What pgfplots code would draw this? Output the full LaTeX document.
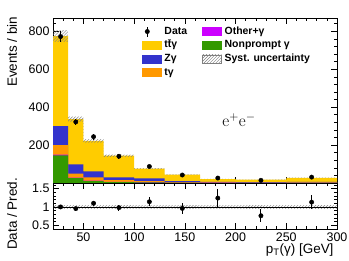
\documentclass[border=0pt]{standalone}
\usepackage{fontspec}
\setmainfont{Liberation Sans}
\newfontfamily\lmr{Latin Modern Roman}
\usepackage{pgfplots}
\pgfplotsset{compat=1.18}
\usepackage{pgfplotstable}
\usetikzlibrary{patterns}
\definecolor{cTTG}{HTML}{FFCC00}
\definecolor{cZG}{HTML}{3333CC}
\definecolor{cTG}{HTML}{FF9900}
\definecolor{cOth}{HTML}{CC00FF}
\definecolor{cNP}{HTML}{339900}

% bin low edges (last row repeats the final bin, closing at 300)
\pgfplotstableread{
x   g    m    o   b    tt
20  145  5    50  100  475
35  25   3    22  48   239
50  10   3    17  31   161
70  5    1.5  9   14.5 114
100 3    1    6   14   52
130 1.5  0.5  3   5    34
165 1    0.3  2   2.5  15.2
200 0.5  0.3  1.5 2    13.7
250 0.5  0.3  2   3    21.2
300 0.5  0.3  2   3    21.2
}\mc

\pgfplotstableread{
x     y    ey
27.5  772  28
42.5  322  18
60    244  16
85    141  12
115   87   9.3
147.5 42   6.5
182.5 26   5.1
225   14   3.7
275   31   5.6
}\datatab

\pgfplotstableread{
x     y     ey
27.5  1.00  0.036
42.5  0.955 0.055
60    1.10  0.07
85    0.98  0.08
115   1.14  0.12
147.5 0.96  0.14
182.5 1.24  0.24
225   0.76  0.17
275   1.13  0.20
}\ratiotab

\pgfplotsset{
  cmsbase/.style={
    scale only axis, width=284bp, xmin=20, xmax=300,
    tick align=inside, major tick length=6bp, minor tick length=3bp,
    axis line style={line width=0.6bp},
    every tick/.style={black, line width=0.5bp},
    tick label style={font=\fontsize{12.5}{14}\selectfont},
    /pgf/number format/assume math mode=true,
    label style={font=\fontsize{13.5}{15}\selectfont},
    xtick={50,100,150,200,250,300},
    minor xtick={20,30,40,60,70,80,90,110,120,130,140,160,170,180,190,210,220,230,240,260,270,280,290},
  },
  boxleg/.style={legend image code/.code={\fill[#1] (0bp,-4bp) rectangle (19bp,4bp);}},
}

\begin{document}
\begin{tikzpicture}
\useasboundingbox (0,0) rectangle (349bp,-261bp);

\begin{axis}[cmsbase, at={(53bp,-18bp)}, anchor=north west, height=165bp,
  ymin=0, ymax=870, ytick={200,400,600,800},
  minor ytick={0,40,80,120,160,240,280,320,360,440,480,520,560,640,680,720,760,840},
  xticklabel=\empty,
  ylabel={Events / bin},
  ylabel style={at={(axis description cs:-0.144,1.03)}, anchor=east},
  legend columns=2,
  legend style={at={(0.313,0.957)}, anchor=north west, draw=none, fill=none,
    font=\bfseries\fontsize{10.5}{12}\selectfont, inner sep=0pt,
    row sep=1.2bp, cells={anchor=west},
    nodes={text height=8bp, text depth=2.5bp, inner sep=1bp},
    /tikz/every odd column/.append style={column sep=2bp},
    /tikz/every even column/.append style={column sep=14bp}},
]
% legend (row-wise order)
\addlegendimage{legend image code/.code={\draw[black, line width=1bp] (5bp,-5bp) -- (5bp,5bp); \fill[black] (5bp,0bp) circle (2.2bp);}}
\addlegendentry{Data}
\addlegendimage{boxleg=cOth}
\addlegendentry{Other+γ}
\addlegendimage{boxleg=cTTG}
\addlegendentry{t\={t}γ}
\addlegendimage{boxleg=cNP}
\addlegendentry{Nonprompt γ}
\addlegendimage{boxleg=cZG}
\addlegendentry{Zγ}
\addlegendimage{legend image code/.code={\draw[gray, line width=0.5bp, pattern=north east lines, pattern color=gray] (0bp,-4bp) rectangle (19bp,4bp);}}
\addlegendentry{Syst. uncertainty}
\addlegendimage{boxleg=cTG}
\addlegendentry{tγ}

% stacked histogram drawn as cumulative sums, back to front
\addplot[ybar interval, fill=cTTG, draw=none, forget plot]
  table[x=x, y expr=\thisrow{g}+\thisrow{m}+\thisrow{o}+\thisrow{b}+\thisrow{tt}] {\mc};
\addplot[ybar interval, fill=cZG, draw=none, forget plot]
  table[x=x, y expr=\thisrow{g}+\thisrow{m}+\thisrow{o}+\thisrow{b}] {\mc};
\addplot[ybar interval, fill=cTG, draw=none, forget plot]
  table[x=x, y expr=\thisrow{g}+\thisrow{m}+\thisrow{o}] {\mc};
\addplot[ybar interval, fill=cOth, draw=none, forget plot]
  table[x=x, y expr=\thisrow{g}+\thisrow{m}] {\mc};
\addplot[ybar interval, fill=cNP, draw=none, forget plot]
  table[x=x, y=g] {\mc};

% systematic band (+-4% of total prediction), step outline
\addplot[pattern=north east lines, pattern color=gray, draw=none, forget plot]
  coordinates {(20,806) (35,806) (35,350.5) (50,350.5) (50,230.9) (70,230.9)
   (70,149.8) (100,149.8) (100,79) (130,79) (130,45.8) (165,45.8) (165,21.8)
   (200,21.8) (200,18.7) (250,18.7) (250,28.1) (300,28.1)
   (300,25.9) (250,25.9) (250,17.3) (200,17.3) (200,20.2) (165,20.2)
   (165,42.2) (130,42.2) (130,73) (100,73) (100,138.2) (70,138.2)
   (70,213.1) (50,213.1) (50,323.5) (35,323.5) (35,744) (20,744) (20,806)};

% data
\addplot[only marks, mark=*, mark size=2.2bp, black, forget plot,
  error bars/.cd, y dir=both, y explicit, error mark=none,
  error bar style={line width=1bp}]
  table[x=x, y=y, y error=ey] {\datatab};

\node[anchor=base west, font=\bfseries\fontsize{15}{17}\selectfont, yshift=3bp] at (rel axis cs:0,1) {CMS};
\node[anchor=base east, font=\fontsize{11.5}{13}\selectfont, yshift=4.7bp] at (rel axis cs:1,1) {138 fb\textsuperscript{−1} (13 TeV)};
\node[anchor=base, font=\fontsize{17}{20}\selectfont] at (rel axis cs:0.655,0.34) {{\lmr e}$^{+}${\lmr e}$^{-}$};
\end{axis}

\begin{axis}[cmsbase, at={(53bp,-183bp)}, anchor=north west, height=46bp,
  ymin=0.4, ymax=1.65, ytick={0.5,1,1.5},
  minor ytick={0.4,0.6,0.7,0.8,0.9,1.1,1.2,1.3,1.4,1.6},
  xlabel={p\textsubscript{T}(γ) [GeV]},
  xlabel style={at={(axis description cs:1,-0.457)}, anchor=east},
  ylabel={Data / Pred.},
  ylabel style={at={(axis description cs:-0.144,0.326)}, anchor=center},
]
\addplot[pattern=north east lines, pattern color=gray, draw=none]
  coordinates {(20,0.95) (300,0.95) (300,1.05) (20,1.05) (20,0.95)};
\addplot[black, line width=0.6bp] coordinates {(20,1) (300,1)};
\addplot[only marks, mark=*, mark size=2.2bp, black,
  error bars/.cd, y dir=both, y explicit, error mark=none,
  error bar style={line width=1bp}]
  table[x=x, y=y, y error=ey] {\ratiotab};
\end{axis}
\end{tikzpicture}
\end{document}
